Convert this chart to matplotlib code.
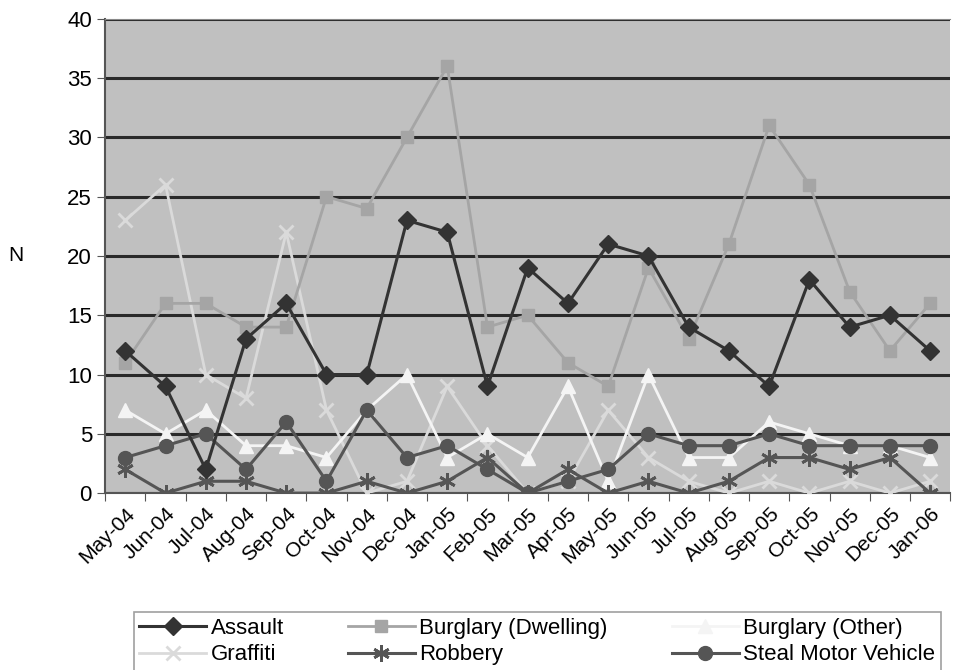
import matplotlib
matplotlib.use('Agg')
import matplotlib.pyplot as plt
import matplotlib.transforms as mtransforms

plt.rcParams['font.family'] = ['Liberation Sans', 'DejaVu Sans']

months = ['May-04', 'Jun-04', 'Jul-04', 'Aug-04', 'Sep-04', 'Oct-04', 'Nov-04',
          'Dec-04', 'Jan-05', 'Feb-05', 'Mar-05', 'Apr-05', 'May-05', 'Jun-05',
          'Jul-05', 'Aug-05', 'Sep-05', 'Oct-05', 'Nov-05', 'Dec-05', 'Jan-06']

assault = [12, 9, 2, 13, 16, 10, 10, 23, 22, 9, 19, 16, 21, 20, 14, 12, 9, 18, 14, 15, 12]
burglary_dwelling = [11, 16, 16, 14, 14, 25, 24, 30, 36, 14, 15, 11, 9, 19, 13, 21, 31, 26, 17, 12, 16]
burglary_other = [7, 5, 7, 4, 4, 3, 7, 10, 3, 5, 3, 9, 1, 10, 3, 3, 6, 5, 4, 4, 3]
graffiti = [23, 26, 10, 8, 22, 7, 0, 1, 9, 4, 0, 1, 7, 3, 1, 0, 1, 0, 1, 0, 1]
robbery = [2, 0, 1, 1, 0, 0, 1, 0, 1, 3, 0, 2, 0, 1, 0, 1, 3, 3, 2, 3, 0]
steal_motor = [3, 4, 5, 2, 6, 1, 7, 3, 4, 2, 0, 1, 2, 5, 4, 4, 5, 4, 4, 4, 4]

fig = plt.figure(figsize=(9.56, 6.70), dpi=100)
ax = fig.add_axes([0.110, 0.264, 0.884, 0.708])
ax.set_facecolor('#c0c0c0')

x = list(range(len(months)))

# light series first, dark ones on top
ax.plot(x, graffiti, color='#dadada', lw=2, marker='x', ms=10, mew=2, label='Graffiti', zorder=3)
ax.plot(x, burglary_dwelling, color='#a5a5a5', lw=2, marker='s', ms=9, label='Burglary (Dwelling)', zorder=3)
ax.plot(x, burglary_other, color='#f4f4f4', lw=2, marker='^', ms=10, label='Burglary (Other)', zorder=4)
ax.plot(x, robbery, color='#555555', lw=2.2, marker=(6, 2, 0), ms=12, mew=2, label='Robbery', zorder=5)
ax.plot(x, steal_motor, color='#555555', lw=2.2, marker='o', ms=10, label='Steal Motor Vehicle', zorder=5)
ax.plot(x, assault, color='#333333', lw=2.2, marker='D', ms=9, label='Assault', zorder=6)

ax.set_xlim(-0.5, len(months) - 0.5)
ax.set_ylim(0, 40)
ax.set_yticks(range(0, 41, 5))
ax.yaxis.grid(True, color='#2a2a2a', lw=2.2)
ax.set_axisbelow(True)

ax.set_xticks([i - 0.5 for i in range(len(months) + 1)], minor=False)
ax.set_xticklabels([])
ax.set_xticks(x, minor=True)
ax.set_xticklabels(months, minor=True, rotation=45, ha='right', rotation_mode='anchor', fontsize=15)
shift = mtransforms.ScaledTranslation(-0.13, 0, fig.dpi_scale_trans)
for lab in ax.get_xticklabels(minor=True):
    lab.set_transform(lab.get_transform() + shift)
ax.tick_params(axis='x', which='minor', length=0, pad=8)
ax.tick_params(axis='x', which='major', length=6, color='#555555', direction='out')
ax.tick_params(axis='y', length=6, color='#555555', labelsize=16)

for s in ['left', 'bottom']:
    ax.spines[s].set_color('#555555')
    ax.spines[s].set_linewidth(1.5)
ax.spines['top'].set_color('#888888')
ax.spines['right'].set_visible(False)

ax.set_ylabel('N', rotation=0, fontsize=15, va='center', ha='center')
ax.yaxis.set_label_coords(-0.106, 0.5)

# legend fills column by column, so list it that way to get rows like the reference
handles, labels = ax.get_legend_handles_labels()
order = ['Assault', 'Graffiti', 'Burglary (Dwelling)', 'Robbery', 'Burglary (Other)', 'Steal Motor Vehicle']
hmap = dict(zip(labels, handles))
leg = fig.legend([hmap[o] for o in order], order, loc='lower center', ncol=3,
                 bbox_to_anchor=(0.562, -0.018), fontsize=16, frameon=True, fancybox=False,
                 edgecolor='#888888', handlelength=3.0, columnspacing=2.9, borderpad=0.25,
                 labelspacing=0.25, handletextpad=0.2)
leg.get_frame().set_linewidth(1.2)

fig.savefig('out.png', dpi=100)
